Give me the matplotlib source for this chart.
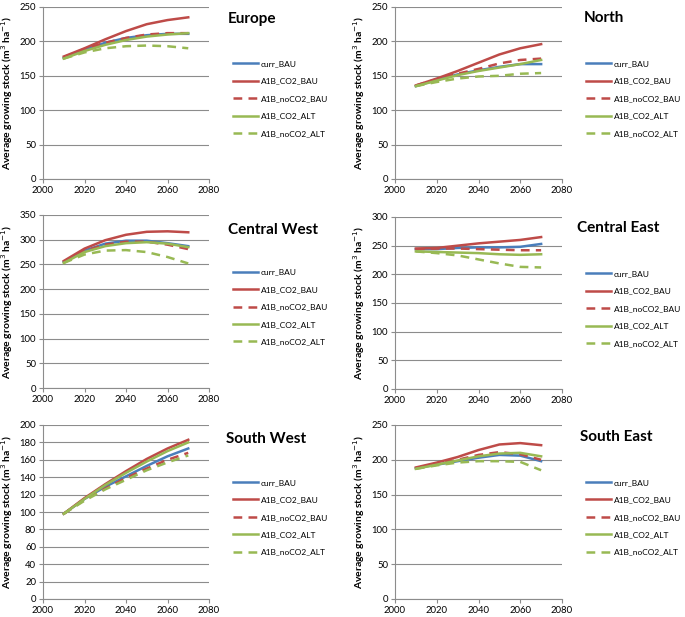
import numpy as np
import matplotlib
matplotlib.use("Agg")
import matplotlib.pyplot as plt

plt.rcParams["font.family"] = ["Lato", "DejaVu Sans"]

years = [2010, 2020, 2030, 2040, 2050, 2060, 2070]
series_names = ["curr_BAU", "A1B_CO2_BAU", "A1B_noCO2_BAU", "A1B_CO2_ALT", "A1B_noCO2_ALT"]

# values per region, in the order of series_names
europe = [
    [176, 188, 198, 205, 209, 211, 211],
    [178, 190, 203, 215, 225, 231, 235],
    [177, 189, 198, 205, 210, 212, 212],
    [175, 186, 195, 202, 207, 210, 212],
    [175, 184, 190, 193, 194, 193, 190],
]
north = [
    [135, 144, 152, 158, 163, 167, 167],
    [136, 146, 157, 169, 181, 190, 196],
    [136, 145, 153, 160, 168, 173, 175],
    [135, 143, 151, 157, 162, 167, 173],
    [135, 141, 146, 149, 150, 153, 154],
]
central_west = [
    [255, 278, 292, 298, 298, 293, 287],
    [257, 282, 299, 310, 316, 317, 315],
    [255, 277, 290, 296, 296, 290, 281],
    [253, 275, 287, 293, 295, 292, 285],
    [253, 270, 278, 279, 275, 265, 252],
]
central_east = [
    [244, 244, 246, 247, 247, 248, 253],
    [245, 246, 250, 254, 257, 260, 265],
    [244, 245, 245, 244, 243, 242, 242],
    [240, 239, 238, 237, 235, 234, 235],
    [240, 237, 233, 226, 219, 213, 212],
]
south_west = [
    [98, 115, 129, 141, 153, 164, 173],
    [98, 116, 132, 147, 161, 173, 183],
    [98, 114, 127, 139, 150, 160, 168],
    [98, 115, 131, 145, 158, 170, 180],
    [98, 113, 126, 137, 148, 157, 165],
]
south_east = [
    [188, 193, 198, 203, 207, 206, 198],
    [189, 196, 204, 214, 222, 224, 221],
    [188, 194, 200, 207, 211, 208, 200],
    [187, 193, 199, 205, 209, 210, 205],
    [187, 192, 196, 198, 198, 197, 185],
]

regions = ["Europe", "North", "Central West", "Central East", "South West", "South East"]
region_data = [europe, north, central_west, central_east, south_west, south_east]
y_max = [250, 250, 350, 300, 200, 250]
y_step = [50, 50, 50, 50, 20, 50]

colors = ["#4A7EBB", "#BE4B48", "#BE4B48", "#98B954", "#98B954"]
styles = ["-", "-", (0, (3.5, 2.5)), "-", (0, (3.5, 2.5))]

W, H = 685, 617
# axes boxes in pixels: left, top, right, bottom
boxes = [
    (43, 7, 209, 179), (395, 7, 562, 179),
    (43, 215, 209, 388), (395, 217, 562, 389),
    (43, 425, 209, 599), (395, 425, 562, 599),
]
title_pos = [(228, 19), (584, 18), (228, 230), (577, 228), (226, 439), (580, 437)]

fig = plt.figure(figsize=(W / 100, H / 100), dpi=100)
grid_c = "#8C8C8C"

for i, name in enumerate(regions):
    l, t, r, b = boxes[i]
    ax = fig.add_axes([l / W, 1 - b / H, (r - l) / W, (b - t) / H])
    for s, vals in enumerate(region_data[i]):
        ax.plot(years, vals, color=colors[s], linestyle=styles[s], lw=1.8,
                label=series_names[s])
    ax.set_xlim(2000, 2080)
    ax.set_xticks(range(2000, 2081, 20))
    ax.set_ylim(0, y_max[i])
    ax.set_yticks(np.arange(0, y_max[i] + 1, y_step[i]))
    ax.yaxis.grid(True, color=grid_c, lw=0.8)
    ax.set_axisbelow(True)
    for sp in ["top", "right"]:
        ax.spines[sp].set_visible(False)
    for sp in ["left", "bottom"]:
        ax.spines[sp].set_color(grid_c)
        ax.spines[sp].set_linewidth(0.8)
    ax.tick_params(labelsize=6.8, length=3, color=grid_c, pad=2)
    ax.set_ylabel("Average growing stock (m$^{3}$ ha$^{-1}$)", fontsize=7.5,
                  fontweight="bold", labelpad=3)
    ax.legend(loc="upper left", bbox_to_anchor=(1.145, 0.69), frameon=False,
              fontsize=6.0, handlelength=3.0, handletextpad=0.3,
              labelspacing=1.25, borderaxespad=0, borderpad=0)
    tx, ty = title_pos[i]
    fig.text(tx / W, 1 - ty / H, name, fontsize=11, fontweight="bold",
             ha="left", va="center")

fig.savefig("out.png", dpi=100)
